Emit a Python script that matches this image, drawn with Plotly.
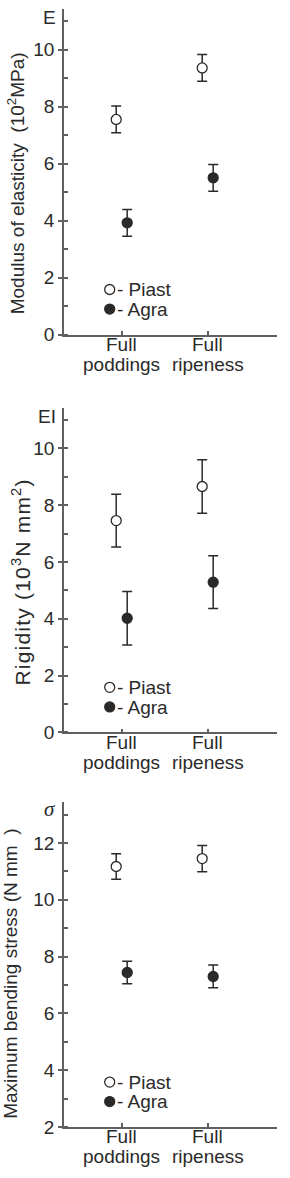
import plotly.graph_objects as go

# ---------------- data ----------------
stages = ["Full poddings", "Full ripeness"]
stage_line1 = ["Full", "Full"]
stage_line2 = ["poddings", "ripeness"]
series_names = ["Piast", "Agra"]

E_piast = [7.55, 9.36]
E_piast_err = [0.47, 0.47]
E_agra = [3.92, 5.50]
E_agra_err = [0.47, 0.47]

EI_piast = [7.46, 8.66]
EI_piast_err = [0.93, 0.94]
EI_agra = [4.02, 5.29]
EI_agra_err = [0.94, 0.93]

S_piast = [11.17, 11.45]
S_piast_err = [0.45, 0.46]
S_agra = [7.44, 7.30]
S_agra_err = [0.40, 0.40]

y_titles = ["Modulus of elasticity  (10<sup>2</sup>MPa)",
            "Rigidity (10<sup>3</sup>N mm<sup>2</sup>)",
            "Maximum bending stress (N mm  )"]
panel_labels = ["E", "EI", "<i>σ</i>"]
y_ranges = [[0, 11.43], [0, 11.43], [2, 13.45]]
y_tick0 = [0, 0, 2]

# ---------------- layout helpers ----------------
W, H = 290, 1178
FONT = "Liberation Sans, Arial, sans-serif"
INK = "#2a2a2a"
AXC = "#606060"
FS = 19


def px(v):
    return v / W


def py(v):
    return 1 - v / H


panels = [
    dict(top=9, bottom=337.7, title_x=16, title_y=185, lab_y=17.8,
         tfs=19, ls=0),
    dict(top=411.7, bottom=739.3, title_x=21, title_y=588, lab_y=420,
         tfs=21, ls=1.2),
    dict(top=809.3, bottom=1137.7, title_x=11, title_y=983, lab_y=816.5,
         tfs=19, ls=0),
]
x_left, x_right = 64, 277
x_range = [-0.671, 1.806]

data_sets = [
    (E_piast, E_piast_err, E_agra, E_agra_err),
    (EI_piast, EI_piast_err, EI_agra, EI_agra_err),
    (S_piast, S_piast_err, S_agra, S_agra_err),
]

fig = go.Figure()
annotations = []
layout = {}
legend_idx = 1
for i, (p, ds) in enumerate(zip(panels, data_sets)):
    xa = "x" if i == 0 else f"x{i+1}"
    ya = "y" if i == 0 else f"y{i+1}"
    xkey = "xaxis" if i == 0 else f"xaxis{i+1}"
    ykey = "yaxis" if i == 0 else f"yaxis{i+1}"
    vals = [(ds[0], ds[1]), (ds[2], ds[3])]
    for s, (yv, ev) in enumerate(vals):
        lg = "legend" if legend_idx == 1 else f"legend{legend_idx}"
        filled = s == 1
        fig.add_trace(go.Scatter(
            x=stages, y=yv, mode="markers", name=" ",
            legendgroup=series_names[s],
            xaxis=xa, yaxis=ya, legend=lg, offsetgroup=series_names[s],
            marker=dict(size=10, symbol="circle",
                        color=INK if filled else "white",
                        line=dict(color=INK, width=1.3)),
            error_y=dict(type="data", array=ev, visible=True,
                         color=INK, thickness=1.5, width=5),
            showlegend=True,
            hovertemplate=series_names[s] + ": %{y}<extra></extra>",
        ))
        # legend key (symbol from the legend, label as text beside it)
        ly = p["bottom"] - (45.3 if s == 0 else 25.6)
        layout[lg] = dict(x=px(109.7 - 20), y=py(ly), xanchor="left",
                          yanchor="middle", bgcolor="rgba(0,0,0,0)",
                          borderwidth=0, itemwidth=30,
                          font=dict(family=FONT, size=FS, color=INK))
        annotations.append(dict(
            text="- " + series_names[s], xref="paper", yref="paper",
            x=px(115), y=py(ly), xanchor="left", yanchor="middle",
            showarrow=False, font=dict(family=FONT, size=FS, color=INK)))
        legend_idx += 1

    layout[xkey] = dict(
        domain=[px(x_left), px(x_right)], anchor=ya, type="category",
        range=x_range, showline=True, linecolor=AXC, linewidth=1.5,
        ticks="inside", ticklen=4, tickcolor=AXC, tickwidth=1.5,
        showticklabels=False, showgrid=False, zeroline=False, fixedrange=True)
    layout[ykey] = dict(
        domain=[py(p["bottom"]), py(p["top"])], anchor=xa,
        range=y_ranges[i], tick0=y_tick0[i], dtick=2,
        showline=True, linecolor=AXC, linewidth=1.5,
        ticks="outside", ticklen=4, tickcolor=AXC, tickwidth=1.5,
        minor=dict(dtick=1, tick0=y_tick0[i], ticks="inside", ticklen=4,
                   tickcolor=AXC, tickwidth=1.5, showgrid=False),
        tickfont=dict(family=FONT, size=FS, color=INK),
        showgrid=False, zeroline=False, fixedrange=True)

    # x category labels (two tight lines)
    for c in range(len(stages)):
        annotations.append(dict(
            text=stage_line1[c], xref=xa, yref="paper", x=stages[c],
            y=py(p["bottom"] + 10.0), xanchor="center", yanchor="middle",
            showarrow=False, font=dict(family=FONT, size=FS, color=INK)))
        annotations.append(dict(
            text=stage_line2[c], xref=xa, yref="paper", x=stages[c],
            y=py(p["bottom"] + 30.0), xanchor="center", yanchor="middle",
            showarrow=False, font=dict(family=FONT, size=FS, color=INK)))

    # y title
    title_text = y_titles[i]
    if p["ls"]:
        title_text = (f'<span style="letter-spacing:{p["ls"]}px">'
                      + title_text + "</span>")
    annotations.append(dict(
        text=title_text, xref="paper", yref="paper",
        x=px(p["title_x"]), y=py(p["title_y"]), xanchor="center",
        yanchor="middle", textangle=-90, showarrow=False,
        font=dict(family=FONT, size=p["tfs"], color=INK)))
    # panel label
    annotations.append(dict(
        text=panel_labels[i], xref="paper", yref="paper",
        x=px(57.5), y=py(p["lab_y"]), xanchor="right", yanchor="middle",
        showarrow=False,
        font=dict(family=("Liberation Serif, serif" if i == 2 else FONT),
                  size=FS + (2 if i == 2 else 0), color=INK)))

fig.update_layout(
    width=W, height=H, margin=dict(l=0, r=0, t=0, b=0),
    paper_bgcolor="white", plot_bgcolor="white",
    scattermode="group", scattergap=0.744,
    annotations=annotations, showlegend=True,
    **layout,
)

fig.write_html("out.html")
